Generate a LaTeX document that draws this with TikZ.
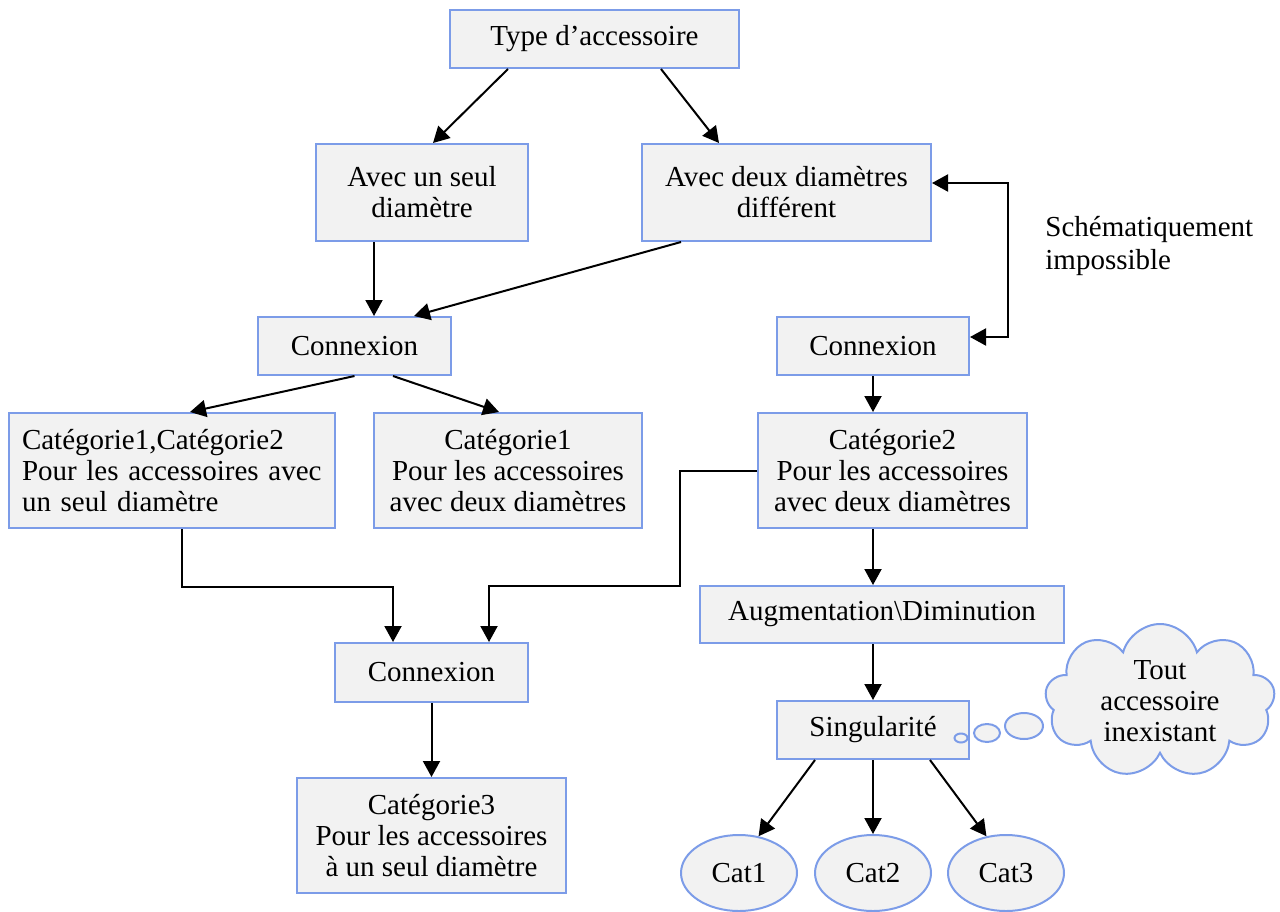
\documentclass[tikz,border=0pt]{standalone}
\usepackage{fontspec}
\setmainfont{Liberation Serif}
\usetikzlibrary{shapes.geometric, shapes.symbols, arrows.meta}
\definecolor{bordbleu}{RGB}{124,156,232}
\definecolor{fondgris}{RGB}{242,242,242}

\begin{document}
\begin{tikzpicture}[x=0.5pt, y=-0.5pt,
	boite/.style={draw=bordbleu, fill=fondgris, line width=1pt,
	inner sep=0pt, align=center, font=\fontsize{14.5pt}{15.5pt}\selectfont},
	ovale/.style={boite, ellipse, minimum width=58pt, minimum height=38pt},
	bulle/.style={draw=bordbleu, fill=fondgris, line width=1pt, ellipse, inner sep=0pt},
	fl/.style={-{Triangle[length=8pt,width=8.5pt]}, line width=1pt}]
\useasboundingbox (0,0) rectangle (1280,911);
% les boites
\node [boite, minimum width=144.5pt, minimum height=29pt] (type) at (594.5,39) {Type d’accessoire};
\node [boite, minimum width=106pt, minimum height=48.5pt] (seul) at (422,192.5) {Avec un seul\\diamètre};
\node [boite, minimum width=144.5pt, minimum height=48.5pt] (deux) at (786.5,192.5) {Avec deux diamètres\\différent};
\node [boite, minimum width=96.5pt, minimum height=29pt] (conL) at (354.5,346) {Connexion};
\node [boite, minimum width=96pt, minimum height=29pt] (conR) at (873,346) {Connexion};
\node [boite, align=left, text width=150pt, inner xsep=6.5pt, minimum height=57.5pt] (cat12) at (172,470.5)
	{Catégorie1,Catégorie2\\Pour les accessoires avec\\un seul diamètre};
\node [boite, minimum width=134pt, minimum height=57.5pt] (cat1) at (508,470.5)
	{Catégorie1\\Pour les accessoires\\avec deux diamètres};
\node [boite, minimum width=134.5pt, minimum height=57.5pt] (cat2) at (892.5,470.5)
	{Catégorie2\\Pour les accessoires\\avec deux diamètres};
\node [boite, minimum width=182pt, minimum height=28.5pt] (aug) at (882,614.5) {Augmentation\textbackslash Diminution};
\node [boite, minimum width=96.5pt, minimum height=29.5pt] (conB) at (431.5,672.5) {Connexion};
\node [boite, minimum width=96pt, minimum height=29pt] (sing) at (873,730) {Singularité};
\node [boite, minimum width=134.5pt, minimum height=57.5pt] (cat3) at (431.5,835.5)
	{Catégorie3\\Pour les accessoires\\à un seul diamètre};
% les ovales
\node [ovale] (c1) at (739,873) {Cat1};
\node [ovale] (c2) at (873,873) {Cat2};
\node [ovale] (c3) at (1006,873) {Cat3};
% la bulle
\node [bulle, minimum width=6.5pt, minimum height=4.5pt] (b1) at (961,738) {};
\node [bulle, minimum width=13pt, minimum height=9pt] (b2) at (987,733) {};
\node [bulle, minimum width=19pt, minimum height=13pt] (b3) at (1024,726) {};
\node [boite, cloud, cloud puffs=9, aspect=1.5, minimum width=115pt, minimum height=77pt] (nuage) at (1160,701)
	{Tout\\accessoire\\inexistant};
\node [align=left, anchor=west, inner sep=0pt, font=\fontsize{14.5pt}{16.5pt}\selectfont] (rem) at (1045,246)
	{Schématiquement\\impossible};
% les fleches
\draw [fl] ([xshift=-43.25pt]type.south) -- ([xshift=5.5pt]seul.north);
\draw [fl] ([xshift=33.25pt]type.south) -- ([xshift=-33.75pt]deux.north);
\draw [fl] ([xshift=-24pt]seul.south) -- ([xshift=-24pt]seul.south |- conL.north);
\draw [fl] ([xshift=-52.75pt]deux.south) -- ([xshift=29.75pt]conL.north);
\draw [fl, {Triangle[length=8pt,width=8.5pt]}-{Triangle[length=8pt,width=8.5pt]}]
	([yshift=4.75pt]deux.east) -- ++(38pt,0) |- ([yshift=4.5pt]conR.east);
\draw [fl] (conL.south) -- ([xshift=9pt]cat12.north);
\draw [fl] ([xshift=19.25pt]conL.south) -- ([xshift=-4.5pt]cat1.north);
\draw [fl] (conR.south) -- (conR.south |- cat2.north);
\draw [fl] ([xshift=5pt]cat12.south) -- ++(0,-29pt) -| ([xshift=-19.25pt]conB.north);
\draw [fl] (cat2.west) -- ++(-38.5pt,0) -- ++(0,-57.5pt) -| ([xshift=28.75pt]conB.north);
\draw [fl] ([xshift=-9.75pt]cat2.south) -- ([xshift=-9.75pt]cat2.south |- aug.north);
\draw [fl] ([xshift=-4.5pt]aug.south) -- (sing.north);
\draw [fl] (conB.south) -- (cat3.north);
\draw [fl] ([xshift=-29pt]sing.south) -- (c1.62);
\draw [fl] (sing.south) -- (c2.north);
\draw [fl] ([xshift=28.5pt]sing.south) -- (c3.118);
\end{tikzpicture}
\end{document}
